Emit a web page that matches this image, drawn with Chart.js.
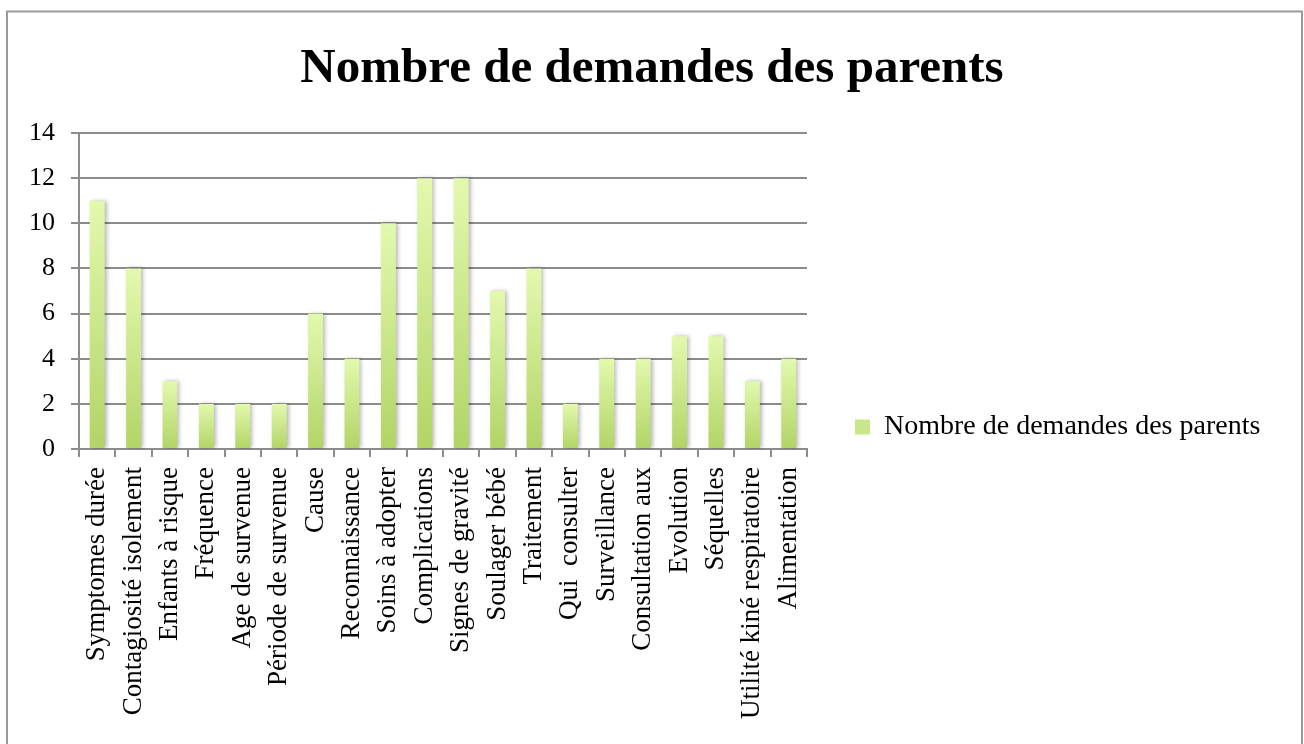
<!DOCTYPE html>
<html>
<head>
<meta charset="utf-8">
<script src="https://cdn.jsdelivr.net/npm/chart.js@4.4.0/dist/chart.umd.min.js"></script>
<style>
  html, body { margin: 0; padding: 0; background: #fff; overflow: hidden; }
  #wrap { width: 1304px; height: 854px; position: relative; }
</style>
</head>
<body>
<div id="wrap"><canvas id="c" width="1304" height="854"></canvas></div>
<script>
const chartTitle = "Nombre de demandes des parents";
const seriesName = "Nombre de demandes des parents";
const categories = [
  "Symptomes durée", "Contagiosité isolement", "Enfants à risque", "Fréquence",
  "Age de survenue", "Période de survenue", "Cause", "Reconnaissance",
  "Soins à adopter", "Complications", "Signes de gravité", "Soulager bébé",
  "Traitement", "Qui  consulter", "Surveillance", "Consultation aux",
  "Evolution", "Séquelles", "Utilité kiné respiratoire", "Alimentation"
];
const values = [11, 8, 3, 2, 2, 2, 6, 4, 10, 12, 12, 7, 8, 2, 4, 4, 5, 5, 3, 4];
const yTicks = [0, 2, 4, 6, 8, 10, 12, 14];

const FONT = "'Liberation Serif', 'Times New Roman', serif";
const LEG_PAD = 48, LEG_BOX = 15;
const PLOT_RIGHT = 807;

const frame = {
  id: 'frame',
  beforeDraw(chart) {
    const ctx = chart.ctx;
    ctx.save();
    ctx.fillStyle = '#ffffff';
    ctx.fillRect(0, 0, chart.width, chart.height);
    ctx.strokeStyle = '#9a9a9a';
    ctx.lineWidth = 2;
    ctx.strokeRect(7, 11.5, 1302 - 7, 900);
    ctx.restore();
  },
  afterLayout(chart) {
    // keep the plot narrow and give the legend the space on the right
    const ca = chart.chartArea;
    ca.right = PLOT_RIGHT; ca.width = ca.right - ca.left;
    const xs = chart.scales.x;
    xs.right = PLOT_RIGHT; xs.width = xs.right - xs.left;
    xs.configure();
    xs._labelItems = null; xs._gridLineItems = null;
    const lg = chart.legend;
    if (lg) {
      lg.left = PLOT_RIGHT; lg.width = lg.right - lg.left;
      if (lg.adjustHitBoxes) lg.adjustHitBoxes();
    }
  },
  beforeDatasetsDraw(chart) {
    const ctx = chart.ctx;
    ctx.save();
    ctx.shadowColor = 'rgba(0,0,0,0.28)';
    ctx.shadowBlur = 4;
    ctx.shadowOffsetX = 2;
    ctx.shadowOffsetY = 0;
  },
  afterDatasetsDraw(chart) {
    chart.ctx.restore();
  }
};

function barFill(c) {
  const chart = c.chart;
  const sc = chart.scales && chart.scales.y;
  if (c.type !== 'data' || !sc || !chart.chartArea) return '#c8e68a';
  const y0 = sc.getPixelForValue(0);
  const y1 = sc.getPixelForValue(c.raw);
  if (!isFinite(y0) || !isFinite(y1) || y0 === y1) return '#c8e68a';
  const g = chart.ctx.createLinearGradient(0, y1, 0, y0);
  g.addColorStop(0, '#e3f9ae');
  g.addColorStop(1, '#b2d466');
  return g;
}

new Chart(document.getElementById('c'), {
  type: 'bar',
  data: {
    labels: categories,
    datasets: [{
      label: seriesName,
      data: values,
      backgroundColor: barFill,
      borderWidth: 0,
      barPercentage: 0.41,
      categoryPercentage: 1.0
    }]
  },
  options: {
    responsive: false,
    animation: false,
    devicePixelRatio: 1,
    layout: { padding: { left: 0, right: 0, top: 0, bottom: 0 } },
    plugins: {
      tooltip: { enabled: false },
      title: {
        display: true,
        text: chartTitle,
        color: '#000',
        font: { family: FONT, size: 49, weight: 'bold', lineHeight: 1.2 },
        padding: { top: 40.4, bottom: 33.8 }
      },
      legend: {
        display: true,
        position: 'right',
        align: 'center',
        fullSize: true,
        labels: {
          color: '#000',
          font: { family: FONT, size: 28 },
          boxWidth: LEG_BOX,
          boxHeight: LEG_BOX,
          padding: LEG_PAD,
          generateLabels(chart) {
            const items = Chart.defaults.plugins.legend.labels.generateLabels(chart);
            items.forEach(it => { it.fillStyle = '#c8e68a'; it.strokeStyle = '#c8e68a'; it.lineWidth = 0; });
            return items;
          }
        }
      }
    },
    scales: {
      x: {
        afterFit(scale) { scale.height = 854 - 449; },
        grid: {
          display: true,
          drawOnChartArea: false,
          drawTicks: true,
          tickLength: 8,
          color: '#8c8c8c',
          lineWidth: 2,
          offset: true
        },
        border: { display: true, color: '#8c8c8c', width: 2 },
        ticks: {
          autoSkip: false,
          minRotation: 90,
          maxRotation: 90,
          padding: 10,
          color: '#000',
          font: { family: FONT, size: 27 }
        }
      },
      y: {
        min: 0,
        max: 14,
        afterFit(scale) { scale.width = 79; },
        afterBuildTicks(scale) { scale.ticks = yTicks.map(v => ({ value: v })); },
        grid: {
          color: '#8c8c8c',
          lineWidth: 2,
          drawTicks: true,
          tickLength: 8
        },
        border: { display: true, color: '#8c8c8c', width: 2 },
        ticks: {
          padding: 16,
          color: '#000',
          font: { family: FONT, size: 26 }
        }
      }
    }
  },
  plugins: [frame]
});
</script>
</body>
</html>
